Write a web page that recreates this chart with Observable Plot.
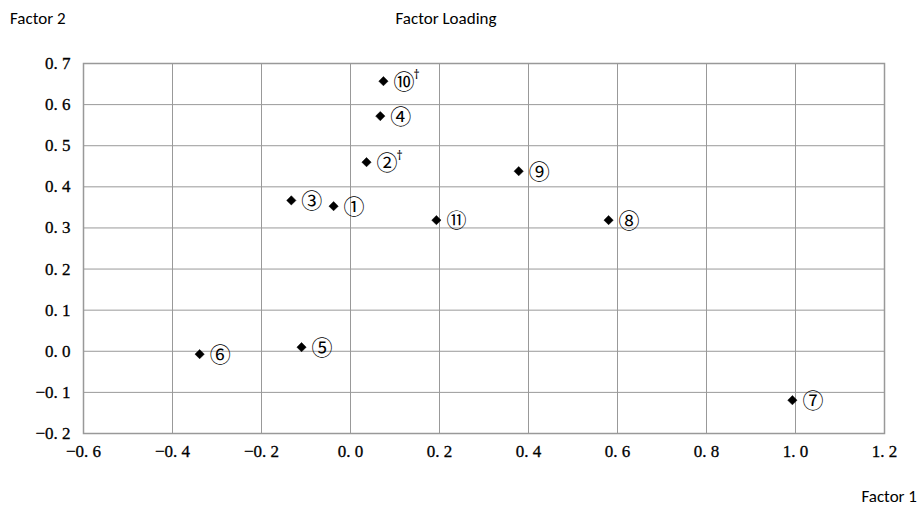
<!DOCTYPE html>
<html><head><meta charset="utf-8">
<script src="https://cdn.jsdelivr.net/npm/d3@7"></script>
<script src="https://cdn.jsdelivr.net/npm/@observablehq/plot@0.6"></script>
<style>
body{margin:0;background:#fff;}
#wrap{position:relative;width:920px;height:509px;}
.t{position:absolute;font-family:"Carlito","Open Sans","Liberation Sans",sans-serif;font-size:17px;color:#000;white-space:nowrap;}
</style></head><body>
<div id="wrap">
<div class="t" style="left:10px;top:8px;">Factor 2</div>
<div class="t" style="left:446px;top:8px;transform:translateX(-50%);">Factor Loading</div>
<div class="t" style="right:3px;top:486px;">Factor 1</div>
<div id="chart"></div>
</div>
<script>
const labels = ["①","②","③","④","⑤","⑥","⑦","⑧","⑨","⑩","⑪"];
const factor1 = [-0.038, 0.036, -0.133, 0.067, -0.110, -0.339, 0.993, 0.580, 0.378, 0.074, 0.193];
const factor2 = [0.353, 0.460, 0.367, 0.572, 0.010, -0.007, -0.119, 0.319, 0.438, 0.657, 0.319];
const daggers = ["", "†", "", "", "", "", "", "", "", "†", ""];
const xTicks = [-0.6,-0.4,-0.2,0,0.2,0.4,0.6,0.8,1.0,1.2];
const yTicks = [-0.2,-0.1,0,0.1,0.2,0.3,0.4,0.5,0.6,0.7];

const data = labels.map((l,i)=>({label:l, x:factor1[i], y:factor2[i], dag:daggers[i]}));
const fmt = v => (v<0?"\u2212":"") + Math.abs(v).toFixed(1).replace(".", ". ");

const plot = Plot.plot({
  width: 920, height: 509,
  marginLeft: 83, marginRight: 36, marginTop: 63, marginBottom: 76,
  x: {domain:[-0.6,1.2], label: null},
  y: {domain:[-0.2,0.7], label: null},
  style: {color: "#000"},
  marks: [
    Plot.gridX(xTicks, {stroke:"#999", strokeOpacity:1, strokeWidth:1}),
    Plot.gridY(yTicks, {stroke:"#999", strokeOpacity:1, strokeWidth:1}),
    Plot.frame({stroke:"#999", strokeWidth:1.5}),
    Plot.axisX(xTicks, {tickFormat: fmt, tickSize:0, tickPadding:11, label:null, fill:"#000", fontSize:17}),
    Plot.axisY(yTicks, {tickFormat: fmt, tickSize:0, tickPadding:13, label:null, fill:"#000", fontSize:17}),
    Plot.dot(data, {x:"x", y:"y", symbol:"diamond2", r:4.2, fill:"#000", stroke:"#000", strokeWidth:0.5}),
    Plot.text(data, {x:"x", y:"y", text:"label", dx:10, dy:1, textAnchor:"start", fontSize: d => d.label === "⑪" ? 20 : 21, fill:"#000"}),
    Plot.text(data.filter(d=>d.dag), {x:"x", y:"y", text:"dag", dx:30, dy:-6, textAnchor:"start", fontSize:12, fill:"#000"})
  ]
});
d3.select(plot).selectAll("text").each(function(){
  const s = this.textContent;
  if (/^\u2212?\d\. \d$/.test(s)) {
    this.style.fontFamily = "'Liberation Serif','DejaVu Serif',serif";
    this.style.stroke = "#000"; this.style.strokeWidth = "0.3px";
  } else if (labels.includes(s)) {
    this.style.fontFamily = "'Noto Sans CJK JP','DejaVu Sans',sans-serif";
  }
});
document.getElementById("chart").appendChild(plot);
</script>
</body></html>
